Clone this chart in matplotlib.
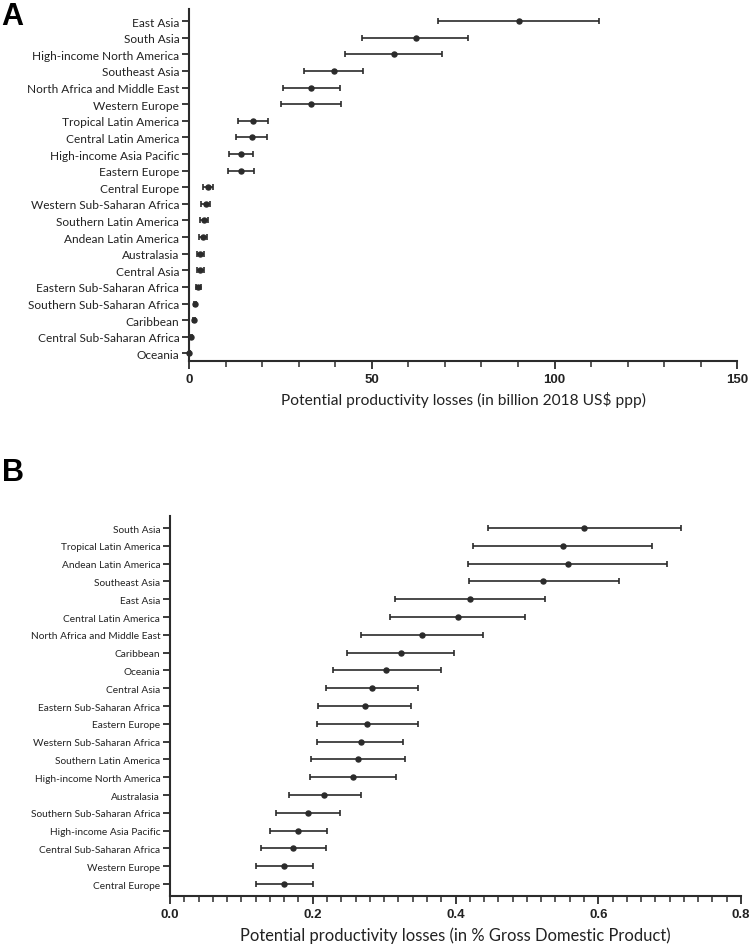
import numpy as np
import matplotlib
matplotlib.use("Agg")
import matplotlib.pyplot as plt
from matplotlib.ticker import MultipleLocator

# Panel A - billion 2018 US$ ppp
regions_a = ["East Asia", "South Asia", "High-income North America", "Southeast Asia",
             "North Africa and Middle East", "Western Europe", "Tropical Latin America",
             "Central Latin America", "High-income Asia Pacific", "Eastern Europe",
             "Central Europe", "Western Sub-Saharan Africa", "Southern Latin America",
             "Andean Latin America", "Australasia", "Central Asia", "Eastern Sub-Saharan Africa",
             "Southern Sub-Saharan Africa", "Caribbean", "Central Sub-Saharan Africa", "Oceania"]
mean_a = [90.3, 62.0, 56.0, 39.6, 33.4, 33.4, 17.4, 17.2, 14.1, 14.1,
          5.3, 4.6, 4.0, 3.9, 3.1, 3.1, 2.5, 1.6, 1.4, 0.6, 0.1]
low_a = [68.2, 47.3, 42.7, 31.4, 25.7, 25.3, 13.4, 12.9, 10.9, 10.7,
         3.8, 3.4, 3.0, 2.8, 2.3, 2.3, 1.9, 1.3, 1.1, 0.4, 0.05]
high_a = [112.2, 76.2, 69.3, 47.7, 41.2, 41.5, 21.7, 21.4, 17.6, 17.8,
          6.7, 5.7, 5.2, 5.0, 4.0, 4.0, 3.2, 1.9, 1.7, 0.8, 0.15]

# Panel B - % GDP
regions_b = ["South Asia", "Tropical Latin America", "Andean Latin America", "Southeast Asia",
             "East Asia", "Central Latin America", "North Africa and Middle East", "Caribbean",
             "Oceania", "Central Asia", "Eastern Sub-Saharan Africa", "Eastern Europe",
             "Western Sub-Saharan Africa", "Southern Latin America", "High-income North America",
             "Australasia", "Southern Sub-Saharan Africa", "High-income Asia Pacific",
             "Central Sub-Saharan Africa", "Western Europe", "Central Europe"]
mean_b = [0.580, 0.550, 0.557, 0.523, 0.420, 0.403, 0.353, 0.323, 0.303, 0.283,
          0.273, 0.276, 0.267, 0.264, 0.256, 0.216, 0.193, 0.180, 0.173, 0.160, 0.160]
low_b = [0.445, 0.424, 0.417, 0.419, 0.315, 0.308, 0.268, 0.248, 0.228, 0.218,
         0.208, 0.206, 0.206, 0.198, 0.196, 0.166, 0.148, 0.140, 0.128, 0.120, 0.120]
high_b = [0.716, 0.676, 0.697, 0.629, 0.526, 0.498, 0.438, 0.398, 0.379, 0.348,
          0.338, 0.347, 0.327, 0.329, 0.317, 0.267, 0.238, 0.220, 0.218, 0.200, 0.200]

col = "#2b2b2b"
label_font = "Lato"
num_font = "Liberation Sans"

fig = plt.figure(figsize=(7.5, 9.45), dpi=100)


def panel(ax, names, mean, low, high, xmax, major, minor, ylim, lab_size, xlabel, xlab_size):
    y = np.arange(len(names))
    mean = np.array(mean)
    err = [mean - np.array(low), np.array(high) - mean]
    ax.errorbar(mean, y, xerr=err, fmt="o", color=col, ecolor=col, ms=3.6,
                elinewidth=1.2, capsize=2.5, capthick=1.2, clip_on=False, zorder=3)
    ax.set_yticks(y)
    ax.set_yticklabels(names, fontfamily=label_font, fontsize=lab_size, color="#222222")
    ax.set_ylim(*ylim)
    ax.set_xlim(0, xmax)
    ax.xaxis.set_major_locator(MultipleLocator(major))
    ax.xaxis.set_minor_locator(MultipleLocator(minor))
    for s in ["top", "right"]:
        ax.spines[s].set_visible(False)
    for s in ["left", "bottom"]:
        ax.spines[s].set_linewidth(1.5)
        ax.spines[s].set_color(col)
    ax.tick_params(axis="y", length=5, width=1.3, color=col, pad=2)
    ax.tick_params(axis="x", which="major", length=6, width=1.3, color=col, pad=3)
    ax.tick_params(axis="x", which="minor", length=4, width=1.1, color=col)
    for t in ax.get_xticklabels():
        t.set_fontfamily(num_font)
        t.set_fontweight("bold")
        t.set_fontsize(9.5)
        t.set_color("#222222")
    ax.set_xlabel(xlabel, fontfamily=label_font, fontsize=xlab_size, color="#222222", labelpad=4)


ax_a = fig.add_axes([0.252, 0.617, 0.731, 0.372])
panel(ax_a, regions_a, mean_a, low_a, high_a, 150, 50, 10, (20.45, -0.7), 8.6,
      "Potential productivity losses (in billion 2018 US$ ppp)", 11.2)
ax_a.xaxis.set_major_formatter(matplotlib.ticker.FormatStrFormatter("%d"))

ax_b = fig.add_axes([0.2267, 0.0508, 0.7613, 0.402])
panel(ax_b, regions_b, mean_b, low_b, high_b, 0.8, 0.2, 0.02, (20.67, -0.67), 7.3,
      "Potential productivity losses (in % Gross Domestic Product)", 11.9)
ax_b.xaxis.set_major_formatter(matplotlib.ticker.FormatStrFormatter("%.1f"))

fig.text(0.002, 0.998, "A", fontsize=22, fontweight="bold", fontfamily=num_font, va="top", ha="left")
fig.text(0.002, 0.515, "B", fontsize=22, fontweight="bold", fontfamily=num_font, va="top", ha="left")

fig.savefig("out.png", dpi=100)
